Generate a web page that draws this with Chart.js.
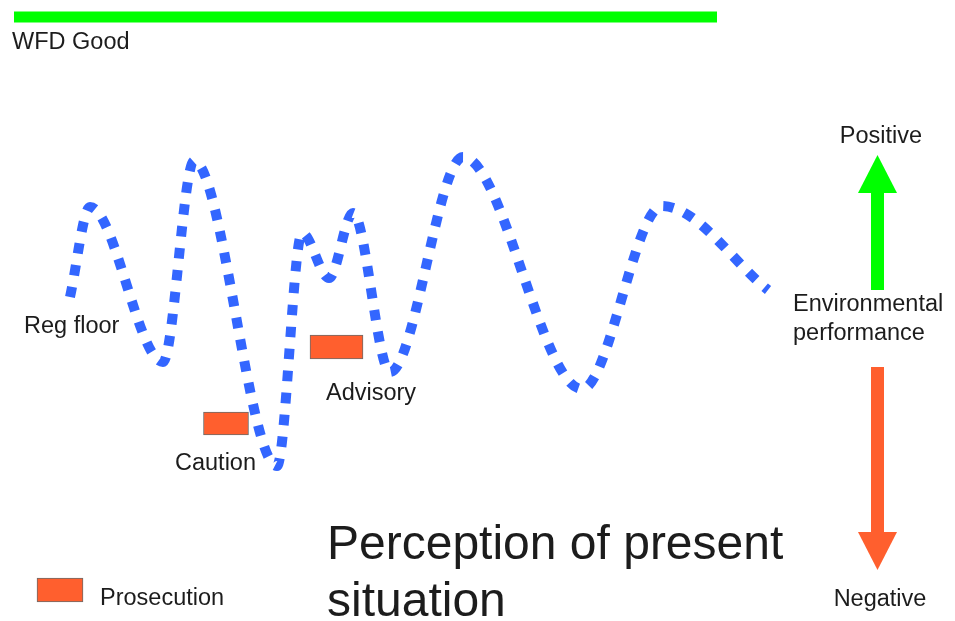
<!DOCTYPE html>
<html>
<head>
<meta charset="utf-8">
<script src="https://cdn.jsdelivr.net/npm/chart.js@4.4.1/dist/chart.umd.min.js"></script>
<style>
  html, body { margin: 0; padding: 0; background: #ffffff; }
  #wrap { width: 955px; height: 621px; position: relative; }
</style>
</head>
<body>
<div id="wrap"><canvas id="c"></canvas></div>
<script>
// ---- data (abstract units: x = time, y = environmental performance) ----
const perceptionX = [7.0, 9.0, 16.3, 19.4, 27.7, 30.2, 32.9, 35.3, 39.0, 46.3, 58.2, 66.2, 76.8];
const perceptionY = [32.4, 41.4, 25.9, 46.0, 15.5, 38.8, 34.3, 40.8, 24.9, 46.4, 23.2, 41.5, 33.1];

const wfdGoodX = [1.4, 71.7];
const wfdGoodY = [60.4, 60.4];

const sanctionNames = ['Caution', 'Advisory', 'Prosecution'];
const sanctionX = [22.6, 33.65, 6.0];
const sanctionLow = [18.6, 26.2, 1.9];
const sanctionHigh = [20.9, 28.6, 4.3];

const arrowNames = ['Positive', 'Negative'];
const arrowX = [87.75, 87.75];
const arrowFrom = [33.1, 25.4];
const arrowTo = [46.6, 5.1];

const labelTexts = ['WFD Good', 'Positive', 'Environmental', 'performance', 'Negative',
                    'Reg floor', 'Caution', 'Advisory', 'Prosecution',
                    'Perception of present', 'situation'];
const labelX = [1.2, 88.1, 79.3, 79.3, 88.0, 2.4, 17.5, 32.6, 10.0, 32.7, 32.7];
const labelY = [57.8, 48.4, 31.6, 28.7, 2.1, 29.4, 15.7, 22.7, 2.2, 7.5, 1.8];

// ---- styles ----
const sanctionWidths = [45, 53, 46];
const labelAlign = ['left', 'center', 'left', 'left', 'center', 'left', 'left', 'left', 'left', 'left', 'left'];
const labelSize = [23.5, 23.5, 23.5, 23.5, 23.5, 23.5, 23.5, 23.5, 23.5, 48, 48];
const arrowColors = ['#00ff00', '#ff5f2e'];
const FONT = '"Liberation Sans", Arial, Helvetica, sans-serif';

const toPts = (xs, ys) => xs.map((v, i) => ({x: v, y: ys[i]}));

const datasets = [
  {
    type: 'line',
    label: 'WFD Good',
    data: toPts(wfdGoodX, wfdGoodY),
    borderColor: '#00ff00',
    borderWidth: 11,
    borderCapStyle: 'butt',
    pointRadius: 0,
    fill: false,
    order: 3
  },
  {
    type: 'line',
    label: 'Perception of present situation',
    data: toPts(perceptionX, perceptionY),
    borderColor: '#3366ff',
    borderWidth: 10,
    borderDash: [10.5, 11.5],
    borderCapStyle: 'butt',
    cubicInterpolationMode: 'monotone',
    pointRadius: 0,
    fill: false,
    order: 1
  }
];
sanctionNames.forEach((name, i) => {
  datasets.push({
    type: 'bar',
    label: name,
    data: [{x: sanctionX[i], y: [sanctionLow[i], sanctionHigh[i]]}],
    backgroundColor: '#ff5f2e',
    borderColor: '#6b6b6b',
    borderWidth: 1,
    borderSkipped: false,
    barThickness: sanctionWidths[i],
    grouped: false,
    order: 2
  });
});

const annotationPlugin = {
  id: 'annotations',
  afterDatasetsDraw(chart) {
    const {ctx, scales: {x, y}} = chart;
    ctx.save();
    const shaft = 13, headLen = 38, headW = 39;
    arrowNames.forEach((n, i) => {
      const px = x.getPixelForValue(arrowX[i]);
      const p0 = y.getPixelForValue(arrowFrom[i]);
      const p1 = y.getPixelForValue(arrowTo[i]);
      const dir = Math.sign(p1 - p0);
      const base = p1 - dir * headLen;
      ctx.fillStyle = arrowColors[i];
      ctx.fillRect(px - shaft / 2, Math.min(p0, base), shaft, Math.abs(base - p0));
      ctx.beginPath();
      ctx.moveTo(px - headW / 2, base);
      ctx.lineTo(px + headW / 2, base);
      ctx.lineTo(px, p1);
      ctx.closePath();
      ctx.fill();
    });
    ctx.fillStyle = '#1c1c1c';
    ctx.textBaseline = 'middle';
    labelTexts.forEach((t, i) => {
      ctx.font = labelSize[i] + 'px ' + FONT;
      ctx.textAlign = labelAlign[i];
      ctx.fillText(t, x.getPixelForValue(labelX[i]), y.getPixelForValue(labelY[i]));
    });
    ctx.restore();
  }
};

new Chart(document.getElementById('c'), {
  type: 'scatter',
  data: { datasets },
  options: {
    responsive: true,
    maintainAspectRatio: false,
    animation: false,
    layout: { padding: 0 },
    plugins: { legend: { display: false }, tooltip: { enabled: false } },
    scales: {
      x: { type: 'linear', min: 0, max: 95.5, display: false, offset: false, grid: { offset: false } },
      y: { type: 'linear', min: 0, max: 62.1, display: false }
    }
  },
  plugins: [annotationPlugin]
});
</script>
</body>
</html>
